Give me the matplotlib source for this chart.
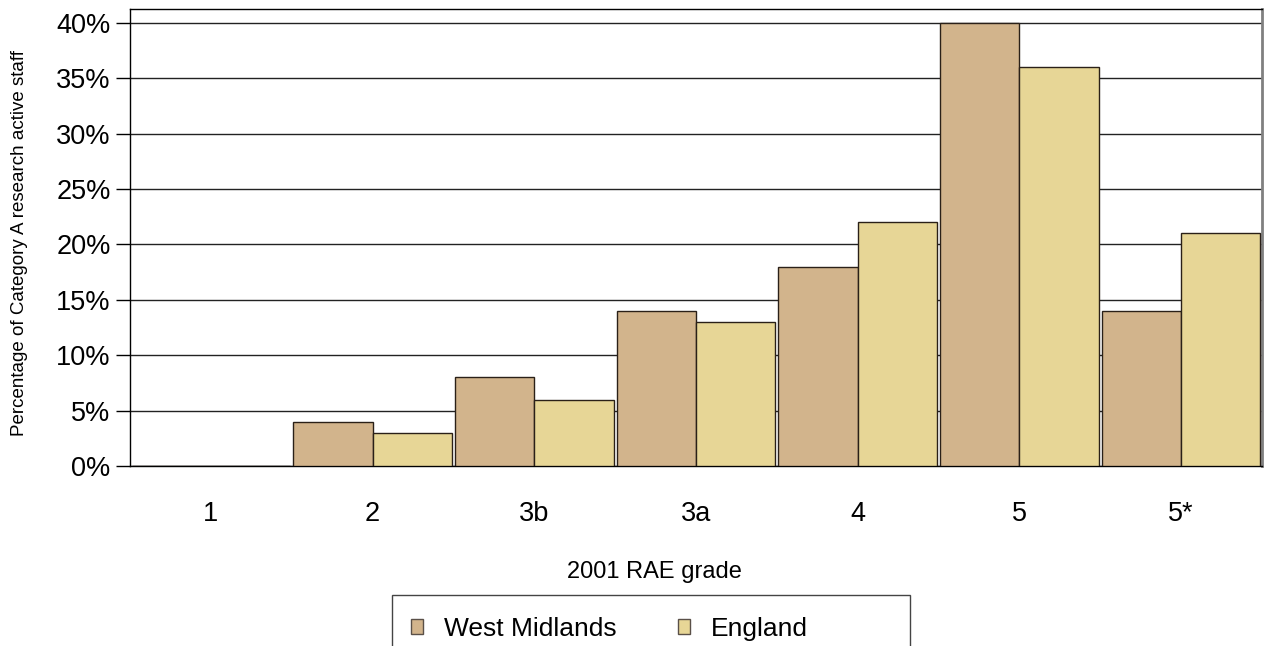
import numpy as np
import matplotlib.pyplot as plt
from matplotlib.patches import Patch, Rectangle
from matplotlib.ticker import FuncFormatter

plt.rcParams['font.family'] = ['Liberation Sans', 'DejaVu Sans']

grades = ['1', '2', '3b', '3a', '4', '5', '5*']
west_midlands = [0, 4, 8, 14, 18, 40, 14]
england = [0, 3, 6, 13, 22, 36, 21]

wm_color = '#d2b48c'
eng_color = '#e7d696'
edge = '#2a2018'

W, H = 1267, 646
fig = plt.figure(figsize=(W / 100, H / 100), dpi=100)
ax = fig.add_axes([130 / W, 1 - 466 / H, 1132 / W, 457 / H])

x = np.arange(len(grades))
w = 0.49
ax.bar(x - w / 2, west_midlands, w, color=wm_color, edgecolor=edge, linewidth=1, zorder=3)
ax.bar(x + w / 2, england, w, color=eng_color, edgecolor=edge, linewidth=1, zorder=3)

ax.set_xlim(-0.5, len(grades) - 0.5)
ax.set_ylim(0, 41.26)
ax.set_yticks(np.arange(0, 41, 5))
ax.yaxis.set_major_formatter(FuncFormatter(lambda v, p: '%d%%' % v))
ax.yaxis.grid(True, color='#222222', linewidth=1)
ax.set_axisbelow(True)
ax.set_xticks(x)
ax.set_xticklabels(grades)
ax.tick_params(axis='x', length=0, pad=25.5, labelsize=19.5)
ax.tick_params(axis='y', length=10, width=1, labelsize=19.5, pad=4)

for s in ['top', 'left', 'bottom']:
    ax.spines[s].set_color('black')
    ax.spines[s].set_linewidth(1)
ax.spines['right'].set_color('#808080')
ax.spines['right'].set_linewidth(2)

fig.text(654 / W, 1 - 578 / H, '2001 RAE grade', fontsize=17, ha='center', va='baseline')
fig.text(20 / W, 1 - 243 / H, 'Percentage of Category A research active staff',
         fontsize=13.5, rotation=90, ha='center', va='center')

# legend box is wider than its content and runs off the bottom edge
fig.add_artist(Rectangle((392 / W, -0.1), 518 / W, (H - 595) / H + 0.1, transform=fig.transFigure,
                         fill=False, edgecolor='#444444', linewidth=1))
handles = [Patch(facecolor=wm_color, edgecolor='#5a5048', label='West Midlands'),
           Patch(facecolor=eng_color, edgecolor='#5a5048', label='England')]
fig.legend(handles=handles, loc='upper left', bbox_to_anchor=(411 / W, 1 - 617 / H),
           ncol=2, fontsize=19, frameon=False, handlelength=0.46, handleheight=0.46,
           handletextpad=0.8, columnspacing=2.3, borderpad=0, borderaxespad=0)

fig.savefig('out.png', dpi=100)
